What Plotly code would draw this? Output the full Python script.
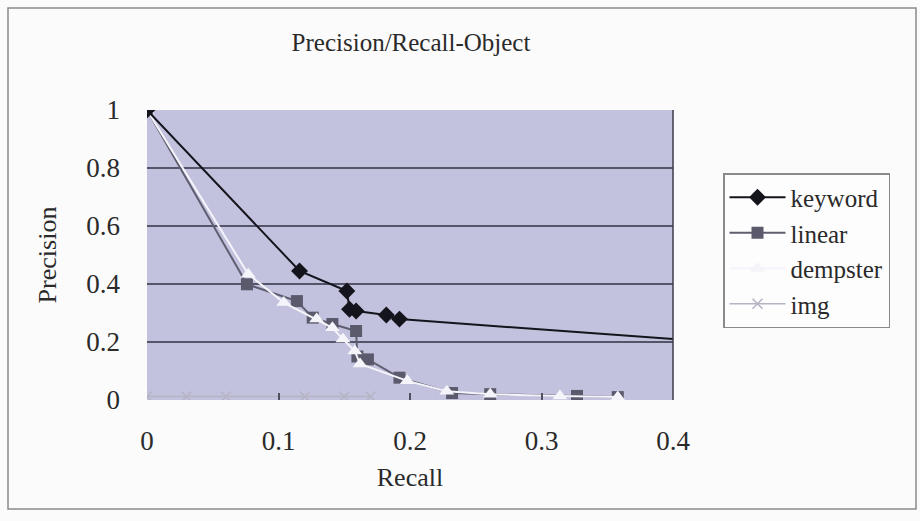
import plotly.graph_objects as go

# ---- data ----
keyword_recall = [0, 0.116, 0.152, 0.154, 0.159, 0.182, 0.192, 0.41]
keyword_prec = [1, 0.445, 0.376, 0.313, 0.307, 0.293, 0.279, 0.207]

linear_recall = [0, 0.076, 0.114, 0.126, 0.141, 0.159, 0.160, 0.168, 0.192, 0.232, 0.261, 0.327, 0.358]
linear_prec = [1, 0.399, 0.341, 0.284, 0.262, 0.238, 0.150, 0.140, 0.077, 0.024, 0.020, 0.014, 0.010]

dempster_recall = [0, 0.077, 0.104, 0.129, 0.141, 0.149, 0.158, 0.162, 0.198, 0.228, 0.261, 0.314, 0.358]
dempster_prec = [1, 0.434, 0.336, 0.279, 0.249, 0.210, 0.169, 0.124, 0.066, 0.030, 0.020, 0.014, 0.010]

img_recall = [0, 0.03, 0.06, 0.12, 0.15, 0.17]
img_prec = [0.012, 0.012, 0.012, 0.012, 0.012, 0.012]

x_tickvals = [0, 0.1, 0.2, 0.3, 0.4]
x_ticktext = ["0", "0.1", "0.2", "0.3", "0.4"]
y_tickvals = [0, 0.2, 0.4, 0.6, 0.8, 1]
y_ticktext = ["0", "0.2", "0.4", "0.6", "0.8", "1"]

FONT = "Liberation Serif"
TXT = "#2a2a2a"

fig = go.Figure()

fig.add_trace(go.Scatter(
    x=img_recall, y=img_prec, name="img", mode="lines+markers", legendrank=4,
    line=dict(color="#b4b4c4", width=1.5),
    marker=dict(symbol="x-thin", size=10, line=dict(color="#b4b4c4", width=1.5)),
))
fig.add_trace(go.Scatter(
    x=linear_recall, y=linear_prec, name="linear", mode="lines+markers", legendrank=2,
    line=dict(color="#5e5e70", width=2),
    marker=dict(symbol="square", size=12, color="#5a5a6c"),
))
fig.add_trace(go.Scatter(
    x=dempster_recall, y=dempster_prec, name="dempster", mode="lines+markers", legendrank=3,
    line=dict(color="#f4f4fa", width=2),
    marker=dict(symbol="triangle-up", size=13, color="#f4f4fa"),
))
fig.add_trace(go.Scatter(
    x=keyword_recall, y=keyword_prec, name="keyword", mode="lines+markers", legendrank=1,
    line=dict(color="#14141c", width=2),
    marker=dict(symbol="diamond", size=13, color="#14141c"),
))

# plot area pixel geometry: x 147..673, y 110..400
L, R, T, B = 147, 673, 110, 400
W, H = 920, 521

def px_to_paper_x(px):
    return (px - L) / (R - L)

def py_to_paper_y(py):
    return (B - py) / (B - T)

# outer chart frame
fig.add_shape(type="rect", xref="paper", yref="paper",
              x0=px_to_paper_x(8), x1=px_to_paper_x(916),
              y0=py_to_paper_y(509), y1=py_to_paper_y(8),
              line=dict(color="#8a8a8a", width=1.5), layer="below")
# right border of plot area
fig.add_shape(type="line", xref="paper", yref="paper",
              x0=1, x1=1, y0=0, y1=1,
              line=dict(color="#3c3c4c", width=1.5))

fig.update_layout(
    width=W, height=H,
    margin=dict(l=L, r=W - R, t=T, b=H - B, pad=0),
    paper_bgcolor="#fbfbfb",
    plot_bgcolor="#c2c2de",
    font=dict(family=FONT, color=TXT, size=24),
    title=dict(text="Precision/Recall-Object", x=411 / W, xanchor="center",
               y=1 - 42 / H, yanchor="middle",
               font=dict(family=FONT, size=25, color=TXT)),
    showlegend=True,
    legend=dict(
        x=px_to_paper_x(723), xanchor="left",
        y=py_to_paper_y(173), yanchor="top",
        bgcolor="#fdfdfd", bordercolor="#8a8a8a", borderwidth=1.5,
        font=dict(family=FONT, size=25, color=TXT),
        traceorder="normal", tracegroupgap=0, itemwidth=56,
    ),
    xaxis=dict(
        range=[0, 0.4], tickvals=x_tickvals, ticktext=x_ticktext,
        showgrid=False, zeroline=False, showline=False,
        ticks="inside", ticklen=7, tickcolor="#505060", tickwidth=1.5,
        ticklabelstandoff=22,
        tickfont=dict(family=FONT, size=27, color=TXT),
        title=dict(text="Recall", standoff=12,
                   font=dict(family=FONT, size=26, color=TXT)),
    ),
    yaxis=dict(
        range=[0, 1], tickvals=y_tickvals, ticktext=y_ticktext,
        showgrid=True, gridcolor="#55556a", gridwidth=1.5,
        zeroline=False, showline=False, ticks="",
        ticklabelstandoff=26,
        tickfont=dict(family=FONT, size=27, color=TXT),
        title=dict(text="Precision", standoff=22,
                   font=dict(family=FONT, size=26, color=TXT)),
    ),
)

fig.write_html("out.html")
